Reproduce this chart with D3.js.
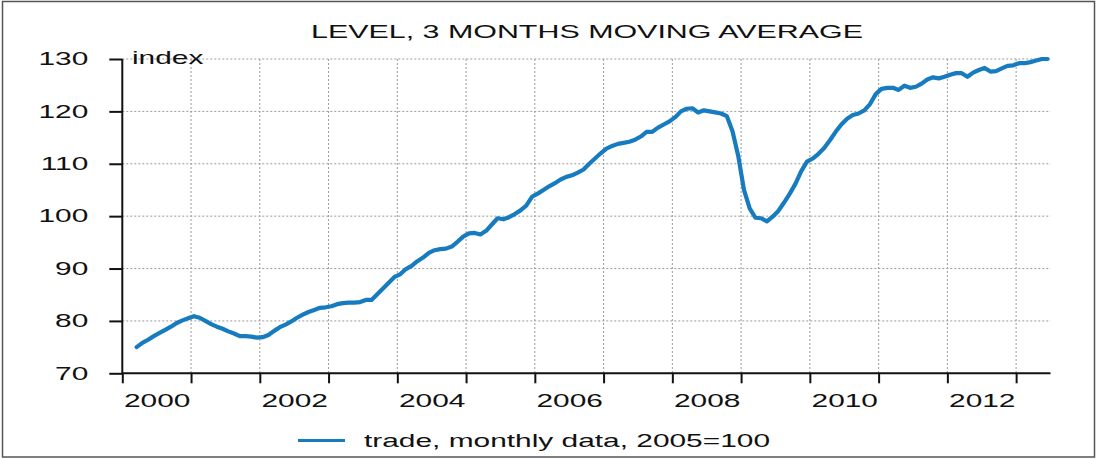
<!DOCTYPE html>
<html>
<head>
<meta charset="utf-8">
<script src="https://cdn.jsdelivr.net/npm/d3@7"></script>
<style>
  html, body { margin: 0; padding: 0; background: #fff; }
  svg { display: block; }
  text { font-family: "Liberation Sans", Arial, Helvetica, sans-serif; fill: #111; }
</style>
</head>
<body>
<svg id="chart" width="1097" height="459"></svg>
<script>
// ---- data (monthly, 3-month moving average, 2005=100) ----
const title = "LEVEL, 3 MONTHS MOVING AVERAGE";
const unitLabel = "index";
const seriesName = "trade, monthly data, 2005=100";
const firstYear = 2000;
const firstMonth = 3; // March 2000
const values = [
  // 2000 (Mar-Dec)
  75.0, 75.8, 76.4, 77.1, 77.7, 78.3, 78.9, 79.6, 80.1, 80.5,
  // 2001
  80.9, 80.6, 80.0, 79.4, 78.9, 78.5, 78.0, 77.6, 77.1, 77.1, 77.0, 76.8,
  // 2002
  76.9, 77.3, 78.1, 78.8, 79.3, 79.9, 80.6, 81.2, 81.7, 82.1, 82.5, 82.6,
  // 2003
  82.8, 83.2, 83.4, 83.5, 83.5, 83.6, 84.0, 84.0, 85.1, 86.2, 87.3, 88.4,
  // 2004
  88.9, 89.9, 90.5, 91.4, 92.1, 93.0, 93.5, 93.7, 93.8, 94.2, 95.1, 96.1,
  // 2005
  96.7, 96.8, 96.5, 97.2, 98.4, 99.6, 99.4, 99.8, 100.4, 101.1, 102.0, 103.7,
  // 2006
  104.3, 105.0, 105.7, 106.3, 107.0, 107.5, 107.8, 108.3, 108.9, 110.0, 111.0, 112.0,
  // 2007
  112.9, 113.4, 113.8, 114.0, 114.2, 114.6, 115.2, 116.1, 116.1, 116.9, 117.5, 118.1,
  // 2008
  118.9, 120.0, 120.5, 120.6, 119.8, 120.2, 120.0, 119.8, 119.6, 119.1, 116.2, 111.5,
  // 2009
  105.0, 101.5, 99.7, 99.6, 99.0, 99.9, 101.0, 102.6, 104.3, 106.2, 108.6, 110.4,
  // 2010
  111.0, 111.9, 113.0, 114.5, 116.1, 117.5, 118.6, 119.3, 119.6, 120.2, 121.4, 123.3,
  // 2011
  124.3, 124.5, 124.5, 124.1, 124.9, 124.5, 124.7, 125.3, 126.1, 126.5, 126.3, 126.6,
  // 2012
  127.0, 127.3, 127.3, 126.6, 127.4, 127.9, 128.3, 127.6, 127.7, 128.2, 128.7, 128.8,
  // 2013 (Jan-Jun)
  129.2, 129.2, 129.4, 129.7, 130.0, 130.0
];
const yTicks = [70, 80, 90, 100, 110, 120, 130];
const xTickYears = [2000, 2001, 2002, 2003, 2004, 2005, 2006, 2007, 2008, 2009, 2010, 2011, 2012, 2013];
const xLabelYears = [2000, 2002, 2004, 2006, 2008, 2010, 2012];

// ---- layout ----
const SX = 1.66;           // horizontal stretch of the text in the reference
const FS = 18;
const plot = { left: 122.3, right: 1050.5, top: 59, bottom: 373.3 };
const lineColor = "#177bbf";

const svg = d3.select("#chart");

const x = d3.scaleLinear().domain([2000, 2013.5]).range([plot.left, plot.right]);
const y = d3.scaleLinear().domain([70, 130]).range([plot.bottom, plot.top]);

const data = values.map((v, i) => {
  const m = firstMonth - 1 + i;           // months since Jan of firstYear
  return { t: firstYear + (m + 0.5) / 12, v };
});

// frame
svg.append("rect").attr("x", 2.5).attr("y", 1.5).attr("width", 1092).attr("height", 455.5)
  .attr("fill", "none").attr("stroke", "#555").attr("stroke-width", 1.5);

// grid
const grid = svg.append("g").attr("stroke", "#9a9a9a").attr("stroke-width", 1)
  .attr("stroke-dasharray", "2,2").attr("fill", "none");
grid.selectAll("line.h").data(yTicks.filter(d => d > 70)).join("line")
  .attr("x1", plot.left).attr("x2", plot.right)
  .attr("y1", d => y(d)).attr("y2", d => y(d));
grid.selectAll("line.v").data(xTickYears.filter(d => d > 2000)).join("line")
  .attr("x1", d => x(d)).attr("x2", d => x(d))
  .attr("y1", plot.top).attr("y2", plot.bottom);

function stretchText(sel) {
  sel.each(function () {
    const t = d3.select(this);
    const ox = +t.attr("x") || 0;
    t.attr("x", ox / SX).attr("transform", `scale(${SX},1)`);
  });
}

// y axis
const yAxis = svg.append("g").attr("transform", `translate(${plot.left},0)`)
  .call(d3.axisLeft(y).tickValues(yTicks).tickSize(13).tickPadding(21).tickFormat(d3.format("d")));
yAxis.selectAll("text").attr("font-size", FS).style("font-family", '"Liberation Sans", Arial, sans-serif').attr("fill", "#111");
yAxis.selectAll("line, path").attr("stroke", "#111").attr("stroke-width", 2);
yAxis.select("path").attr("d", `M0,${plot.bottom}V${plot.top}`);
stretchText(yAxis.selectAll("text"));

// x axis: ticks
const xAxis = svg.append("g").attr("transform", `translate(0,${plot.bottom})`)
  .call(d3.axisBottom(x).tickValues(xTickYears).tickSize(10).tickFormat(""));
xAxis.selectAll("line, path").attr("stroke", "#111").attr("stroke-width", 2);
xAxis.select("path").attr("d", `M${plot.left},0H${plot.right}`);

// x axis: labels centred on years
const xLab = svg.append("g").attr("transform", `translate(0,${plot.bottom})`)
  .call(d3.axisBottom(x).tickValues(xLabelYears.map(d => d + 0.5)).tickSize(0).tickPadding(21)
    .tickFormat(d => String(Math.floor(d))));
xLab.select("path").remove();
xLab.selectAll("text").attr("font-size", FS).style("font-family", '"Liberation Sans", Arial, sans-serif').attr("fill", "#111");
xLab.selectAll(".tick").each(function () {
  d3.select(this).select("text").attr("transform", `scale(${SX},1)`);
});

// unit label
svg.append("text").attr("x", 132 / SX).attr("y", 64).attr("transform", `scale(${SX},1)`)
  .attr("font-size", FS).text(unitLabel);

// title
const TSX = 1.69;
svg.append("text").attr("x", 587 / TSX).attr("y", 38).attr("transform", `scale(${TSX},1)`)
  .attr("text-anchor", "middle").attr("font-size", FS).text(title);

// series line
svg.append("path").datum(data)
  .attr("fill", "none").attr("stroke", lineColor).attr("stroke-width", 4.2)
  .attr("stroke-linejoin", "round").attr("stroke-linecap", "round")
  .attr("d", d3.line().x(d => x(d.t)).y(d => y(d.v)));

// legend
const lg = svg.append("g");
lg.append("line").attr("x1", 298).attr("x2", 345).attr("y1", 440.5).attr("y2", 440.5)
  .attr("stroke", lineColor).attr("stroke-width", 3);
lg.append("text").attr("x", 364 / SX).attr("y", 447).attr("transform", `scale(${SX},1)`)
  .attr("font-size", FS).text(seriesName);
</script>
</body>
</html>
